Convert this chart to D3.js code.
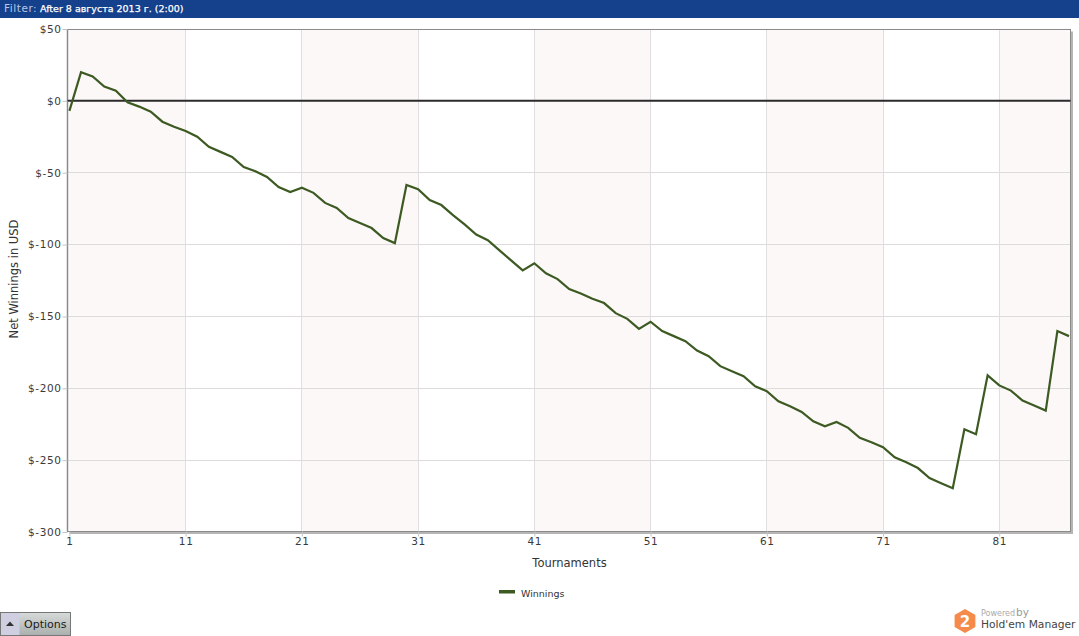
<!DOCTYPE html>
<html>
<head>
<meta charset="utf-8">
<script src="https://cdnjs.cloudflare.com/ajax/libs/d3/7.8.5/d3.min.js"></script>
<style>
html,body{margin:0;padding:0;background:#fff;overflow:hidden}
svg{display:block}
text{font-family:"DejaVu Sans",Verdana,sans-serif}
</style>
</head>
<body>
<svg id="c" width="1079" height="636"></svg>
<script>
const winnings = [-7,20,17,10,7,-1,-4,-7.5,-14.5,-18,-21,-25,-32,-35.5,-39,-46,-49,-53,-60,-63.5,
-60.5,-64,-71,-74.5,-81.5,-85,-88.5,-95.5,-99,-58.5,-61.5,-69,-72.5,-79.5,-86,-93,-97,-104,-111,-118,
-113,-120,-124,-131,-134,-137.7,-140.7,-147.7,-151.7,-158.7,-153.7,-160.2,-163.7,-167.2,-173.7,-177.7,-184.6,-188.1,-191.6,-198.6,
-202,-209,-212.5,-216.5,-223,-226.5,-223.5,-227.5,-234.5,-237.5,-241,-248,-251.5,-255.5,-262.5,-266,-269.5,-228.5,-232,-191,
-198,-201.6,-208.5,-212,-215.5,-160.2,-163.7];
const yTicks = [50,0,-50,-100,-150,-200,-250,-300];
const xTicks = [1,11,21,31,41,51,61,71,81];
const seriesName = "Winnings";
const xTitle = "Tournaments";
const yTitle = "Net Winnings in USD";
const filterLabel = "Filter:";
const filterValue = "After 8 августа 2013 г. (2:00)";

const svg = d3.select("#c");
const x = d3.scaleLinear().domain([1,87]).range([69.4,1069]);
const y = d3.scaleLinear().domain([-300,50]).range([532,29]);
const L=67.5,R=1070.5,T=29.5,B=531.5;

// header
svg.append("rect").attr("width",1079).attr("height",18).attr("fill","#15408b");
svg.append("text").attr("x",4).attr("y",12).attr("font-size",10.5).attr("fill","#b9c8e4").attr("letter-spacing",.55).text(filterLabel);
svg.append("text").attr("x",40).attr("y",12).attr("font-size",9.5).attr("fill","#fff").attr("stroke","#fff").attr("stroke-width",.25).text(filterValue);

// frame shadow
svg.append("rect").attr("x",L+2).attr("y",T+2).attr("width",R-L+0.5).attr("height",B-T+0.5).attr("fill","#b5b5b5");
svg.append("rect").attr("x",L).attr("y",T).attr("width",R-L).attr("height",B-T).attr("fill","#fff");

// bands
const bandStarts = xTicks.filter((d,i)=>i%2===0);
svg.append("g").selectAll("rect").data(bandStarts).join("rect")
  .attr("x",d=>x(d)).attr("y",T)
  .attr("width",d=>Math.min(x(d+10),R)-x(d)).attr("height",B-T).attr("fill","#fcf8f7");

// grid
svg.append("g").selectAll("line").data(yTicks.filter(d=>d!==50&&d!==-300&&d!==0)).join("line")
  .attr("x1",L).attr("x2",R).attr("y1",d=>Math.floor(y(d))+.5).attr("y2",d=>Math.floor(y(d))+.5)
  .attr("stroke","#dedcdb").attr("stroke-width",1);
svg.append("g").selectAll("line").data(xTicks.slice(1)).join("line")
  .attr("y1",T).attr("y2",B).attr("x1",d=>Math.floor(x(d))+.5).attr("x2",d=>Math.floor(x(d))+.5)
  .attr("stroke","#e0dede").attr("stroke-width",1);

// frame
svg.append("rect").attr("x",L).attr("y",T).attr("width",R-L).attr("height",B-T)
  .attr("fill","none").attr("stroke","#8a8a8a").attr("stroke-width",1);
svg.append("line").attr("x1",L).attr("x2",L).attr("y1",T).attr("y2",B).attr("stroke","#8a8a8a").attr("stroke-width",1.5);

// zero line
svg.append("line").attr("x1",L).attr("x2",R).attr("y1",y(0)).attr("y2",y(0)).attr("stroke","#2b2b2b").attr("stroke-width",2);

// series
svg.append("path").datum(winnings)
  .attr("fill","none").attr("stroke","#3d5a23").attr("stroke-width",2.2).attr("stroke-linejoin","miter")
  .attr("d",d3.line().x((d,i)=>x(i+1)).y(d=>y(d)));

// axes
const fmt = d=> d<0 ? "$-"+Math.abs(d) : "$"+d;
const yAxis = d3.axisLeft(y).tickValues(yTicks).tickFormat(fmt).tickSize(5).tickPadding(1);
const gy = svg.append("g").attr("transform",`translate(${L},0)`).call(yAxis);
gy.select(".domain").remove();
gy.selectAll("line").attr("stroke","#c4c4c4");
gy.selectAll("text").attr("font-size",10.5).attr("fill","#3a3a3a").attr("letter-spacing",.6).attr("font-family","'DejaVu Sans',sans-serif");

const xAxis = d3.axisBottom(x).tickValues(xTicks).tickFormat(d3.format("d")).tickSize(5).tickPadding(1);
const gx = svg.append("g").attr("transform",`translate(0,${B})`).call(xAxis);
gx.select(".domain").remove();
gx.selectAll("line").attr("stroke","#c4c4c4");
gx.selectAll("text").attr("font-size",10.5).attr("fill","#3a3a3a").attr("letter-spacing",.6).attr("font-family","'DejaVu Sans',sans-serif");

// titles
svg.append("text").attr("x",569.5).attr("y",567).attr("text-anchor","middle").attr("font-size",11.5).attr("fill","#333").text(xTitle);
svg.append("text").attr("transform","translate(18,279) rotate(-90)").attr("text-anchor","middle").attr("font-size",11.5).attr("fill","#333").text(yTitle);

// legend
svg.append("rect").attr("x",499).attr("y",590).attr("width",16).attr("height",3.5).attr("fill","#3d5a23");
svg.append("text").attr("x",521).attr("y",597).attr("font-size",9.5).attr("fill","#333").text(seriesName);

// options button
const btn = svg.append("g");
const grad = svg.append("defs").append("linearGradient").attr("id","bg").attr("x1",0).attr("x2",0).attr("y1",0).attr("y2",1);
grad.append("stop").attr("offset",0).attr("stop-color","#d6dad8");
grad.append("stop").attr("offset",1).attr("stop-color","#aab0ae");
btn.append("rect").attr("x",.5).attr("y",612.5).attr("width",70).attr("height",23).attr("fill","url(#bg)").attr("stroke","#777");
btn.append("rect").attr("x",1).attr("y",613).attr("width",18.5).attr("height",22).attr("fill","#cfcfe2");
btn.append("path").attr("d","M6,626 L10,621.5 L14,626 Z").attr("fill","#333");
btn.append("text").attr("x",24).attr("y",628).attr("font-size",11).attr("fill","#1a1a1a").text("Options");

// logo
const hex = d3.range(6).map(i=>{const a=Math.PI/3*i+Math.PI/6;return [965+12*Math.cos(a),621+12*Math.sin(a)];});
svg.append("path").attr("d","M"+hex.join("L")+"Z").attr("fill","#f58a4b");
svg.append("text").attr("x",965).attr("y",626.5).attr("text-anchor","middle").attr("font-size",15).attr("font-weight","bold").attr("fill","#fff").text("2");
svg.append("text").attr("x",981).attr("y",616).attr("font-size",8).attr("fill","#aaa").text("Powered");
svg.append("text").attr("x",1016).attr("y",616).attr("font-size",10.5).attr("fill","#999").text("by");
svg.append("text").attr("x",981).attr("y",628).attr("font-size",10.7).attr("fill","#444").text("Hold'em Manager");
</script>
</body>
</html>
